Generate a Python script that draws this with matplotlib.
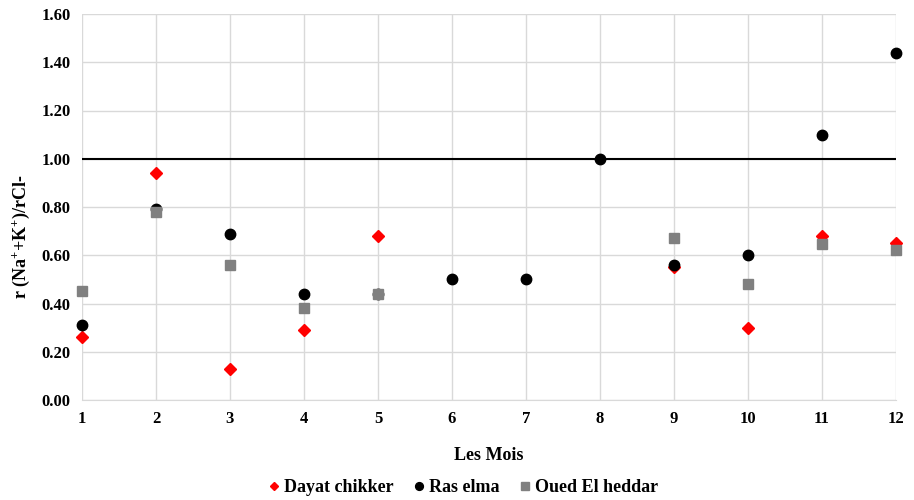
import numpy as np
import matplotlib
matplotlib.use("Agg")
import matplotlib.pyplot as plt

months = list(range(1, 13))
nan = np.nan
dayat_chikker = [0.26, 0.94, 0.13, 0.29, 0.68, nan, nan, nan, 0.55, 0.30, 0.68, 0.65]
ras_elma = [0.31, 0.79, 0.69, 0.44, 0.44, 0.50, 0.50, 1.00, 0.56, 0.60, 1.10, 1.44]
oued_el_heddar = [0.45, 0.78, 0.56, 0.38, 0.44, nan, nan, nan, 0.67, 0.48, 0.645, 0.62]
reference_value = 1.0
yticks = [0.0, 0.2, 0.4, 0.6, 0.8, 1.0, 1.2, 1.4, 1.6]

plt.rcParams['font.family'] = ['Liberation Serif', 'DejaVu Serif']
plt.rcParams['font.weight'] = 'bold'
plt.rcParams['mathtext.fontset'] = 'custom'
plt.rcParams['mathtext.rm'] = 'Liberation Serif:bold'
plt.rcParams['mathtext.bf'] = 'Liberation Serif:bold'
plt.rcParams['mathtext.it'] = 'Liberation Serif:bold'

fig = plt.figure(figsize=(9.14, 5.0), dpi=100)
ax = fig.add_axes([0.0897, 0.2, 0.8906, 0.772])

ax.set_xlim(1, 12)
ax.set_ylim(0, 1.6)
ax.set_xticks(months)
ax.set_yticks(yticks)
ax.set_yticklabels([f"{v:.2f}" for v in yticks])
ax.grid(True, color='#d9d9d9', linewidth=1.0)
ax.set_axisbelow(True)
for s in ['top', 'right', 'left']:
    ax.spines[s].set_visible(False)
ax.spines['bottom'].set_color('#d9d9d9')
ax.tick_params(length=0, labelsize=12, pad=8)
for lab in ax.get_xticklabels() + ax.get_yticklabels():
    lab.set_fontweight('bold')

ax.axhline(reference_value, color='black', linewidth=1.5, zorder=2)

ax.plot(months, dayat_chikker, linestyle='none', marker='D', color='#ff0000',
        markersize=6, label='Dayat chikker', zorder=3, clip_on=False)
ax.plot(months, ras_elma, linestyle='none', marker='o', color='black',
        markersize=7.5, label='Ras elma', zorder=4, clip_on=False)
ax.plot(months, oued_el_heddar, linestyle='none', marker='s', color='#808080',
        markersize=7, label='Oued El heddar', zorder=5, clip_on=False)

ax.set_xlabel('Les Mois', fontsize=13, fontweight='bold', labelpad=14)
ax.set_ylabel(r'r (Na$^{+}$+K$^{+}$)/rCl-', fontsize=13, fontweight='bold')
ax.yaxis.set_label_coords(-0.062, 0.422)

leg = fig.legend(loc='lower center', bbox_to_anchor=(0.505, -0.025), ncol=3, frameon=False,
                 handletextpad=0.05, handlelength=1.0, columnspacing=0.9, markerscale=0.75,
                 prop={'weight': 'bold', 'size': 13})

fig.savefig('out.png', dpi=100)
